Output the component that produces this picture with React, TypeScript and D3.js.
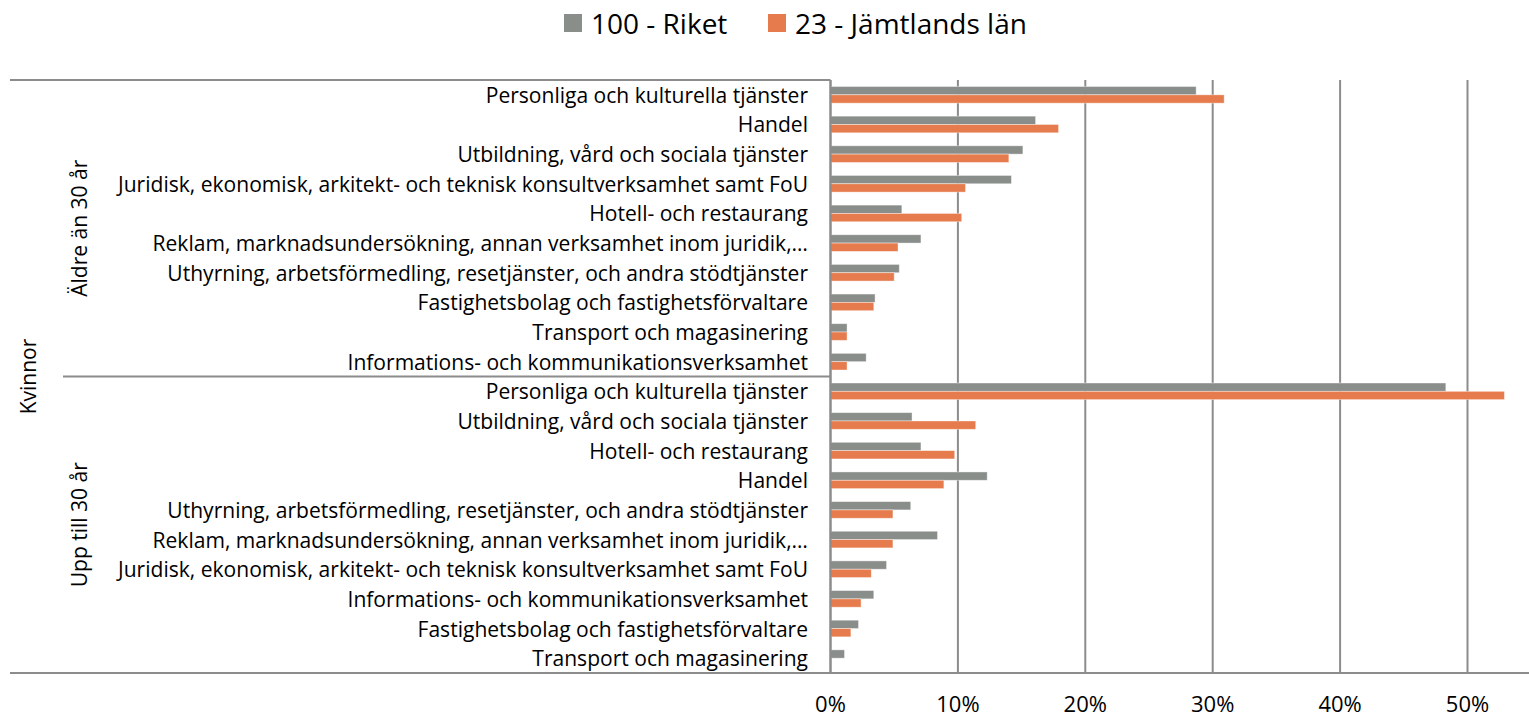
import React from "react";
import * as d3 from "d3";

const groups = ["Äldre än 30 år", "Upp till 30 år"];
const outerGroup = "Kvinnor";
const seriesNames = ["100 - Riket", "23 - Jämtlands län"];
const seriesColors = ["#8A8E8B", "#E67C4D"];

const olderCategories = [
  "Personliga och kulturella tjänster",
  "Handel",
  "Utbildning, vård och sociala tjänster",
  "Juridisk, ekonomisk, arkitekt- och teknisk konsultverksamhet samt FoU",
  "Hotell- och restaurang",
  "Reklam, marknadsundersökning, annan verksamhet inom juridik,…",
  "Uthyrning, arbetsförmedling, resetjänster, och andra stödtjänster",
  "Fastighetsbolag och fastighetsförvaltare",
  "Transport och magasinering",
  "Informations- och kommunikationsverksamhet",
];
const olderRiket = [0.287, 0.161, 0.151, 0.142, 0.056, 0.071, 0.054, 0.035, 0.013, 0.028];
const olderJamt = [0.309, 0.179, 0.140, 0.106, 0.103, 0.053, 0.050, 0.034, 0.013, 0.013];

const youngerCategories = [
  "Personliga och kulturella tjänster",
  "Utbildning, vård och sociala tjänster",
  "Hotell- och restaurang",
  "Handel",
  "Uthyrning, arbetsförmedling, resetjänster, och andra stödtjänster",
  "Reklam, marknadsundersökning, annan verksamhet inom juridik,…",
  "Juridisk, ekonomisk, arkitekt- och teknisk konsultverksamhet samt FoU",
  "Informations- och kommunikationsverksamhet",
  "Fastighetsbolag och fastighetsförvaltare",
  "Transport och magasinering",
];
const youngerRiket = [0.483, 0.064, 0.071, 0.123, 0.063, 0.084, 0.044, 0.034, 0.022, 0.011];
const youngerJamt = [0.529, 0.114, 0.0975, 0.089, 0.049, 0.049, 0.032, 0.024, 0.016, 0.0];

const xTicks = [0, 0.1, 0.2, 0.3, 0.4, 0.5];

const W = 1529;
const H = 718;
const FONT = "'Open Sans', sans-serif";

export default function App() {
  const rows = [
    ...olderCategories.map((c, i) => ({ key: `o${i}`, label: c, group: 0, vals: [olderRiket[i], olderJamt[i]] })),
    ...youngerCategories.map((c, i) => ({ key: `y${i}`, label: c, group: 1, vals: [youngerRiket[i], youngerJamt[i]] })),
  ];

  const top = 80;
  const bottom = 673;
  const x0 = 830.5;
  const x = d3.scaleLinear().domain([0, 0.55]).range([x0, x0 + 55 * 12.74]);
  const y = d3.scaleBand<string>().domain(rows.map((r) => r.key)).range([top, bottom]).padding(0);
  const inner = d3.scaleBand<number>().domain([0, 1]).range([0, y.bandwidth()]).paddingInner(0).paddingOuter(0.78);
  const fmt = d3.format(".0%");

  const groupSpan = (g: number) => {
    const keys = rows.filter((r) => r.group === g).map((r) => r.key);
    return [y(keys[0])!, y(keys[keys.length - 1])! + y.bandwidth()];
  };
  const g0 = groupSpan(0);
  const g1 = groupSpan(1);
  const lineColor = "#8C8C8C";

  return (
    <svg width={W} height={H} style={{ position: "absolute", left: 0, top: 0, background: "#fff" }} fontFamily={FONT}>
      {/* legend */}
      <g>
        <rect x={564} y={14} width={18} height={18} fill={seriesColors[0]} />
        <text x={591} y={23} dominantBaseline="central" fontSize={28} fill="#000">{seriesNames[0]}</text>
        <rect x={768} y={14} width={18} height={18} fill={seriesColors[1]} />
        <text x={795} y={23} dominantBaseline="central" fontSize={28} fill="#000">{seriesNames[1]}</text>
      </g>

      {/* gridlines */}
      {xTicks.map((t) => (
        <line key={`g${t}`} x1={x(t)} x2={x(t)} y1={top} y2={bottom} stroke={lineColor} strokeWidth={2} />
      ))}

      {/* bars */}
      {rows.map((r) =>
        r.vals.map((v, si) => (
          <rect
            key={`${r.key}-${si}`}
            x={x(0)}
            y={y(r.key)! + inner(si)!}
            width={Math.max(0, x(v) - x(0))}
            height={inner.bandwidth()}
            fill={seriesColors[si]}
            stroke={v > 0 ? "#ffffff" : "none"}
            strokeOpacity={0.5}
            strokeWidth={0.8}
          />
        ))
      )}

      {/* frame lines of category area */}
      <line x1={10} x2={x0} y1={top} y2={top} stroke={lineColor} strokeWidth={2} />
      <line x1={63} x2={x0} y1={g0[1]} y2={g0[1]} stroke={lineColor} strokeWidth={2} />
      <line x1={10} x2={W} y1={bottom} y2={bottom} stroke={lineColor} strokeWidth={2} />
      <line x1={x0} x2={x0} y1={top} y2={bottom} stroke={lineColor} strokeWidth={2} />

      {/* category labels */}
      {rows.map((r) => (
        <text
          key={`l${r.key}`}
          x={808}
          y={y(r.key)! + y.bandwidth() / 2}
          textAnchor="end"
          dominantBaseline="central"
          fontSize={21.05}
          fill="#000"
        >
          {r.label}
        </text>
      ))}

      {/* group labels */}
      {[g0, g1].map((span, gi) => (
        <text
          key={`grp${gi}`}
          transform={`translate(${79},${(span[0] + span[1]) / 2}) rotate(-90)`}
          textAnchor="middle"
          dominantBaseline="central"
          fontSize={21}
          fill="#000"
        >
          {groups[gi]}
        </text>
      ))}
      <text
        transform={`translate(${28},${(top + bottom) / 2}) rotate(-90)`}
        textAnchor="middle"
        dominantBaseline="central"
        fontSize={21}
        fill="#000"
      >
        {outerGroup}
      </text>

      {/* x tick labels */}
      {xTicks.map((t) => (
        <text key={`t${t}`} x={x(t)} y={703} textAnchor="middle" dominantBaseline="central" fontSize={22} fill="#000">
          {fmt(t)}
        </text>
      ))}
    </svg>
  );
}
